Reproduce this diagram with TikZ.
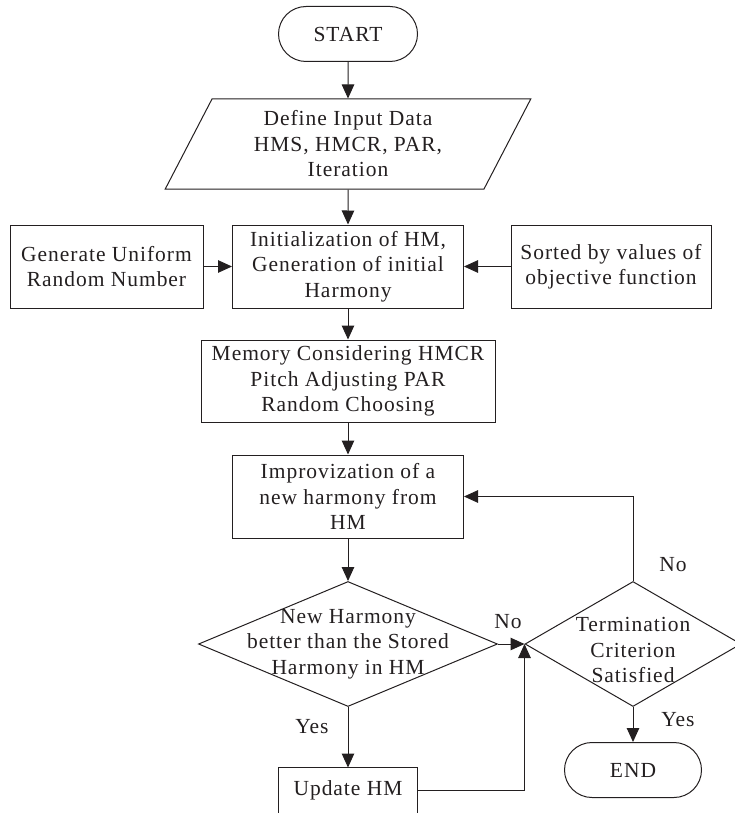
\documentclass[tikz,border=0pt]{standalone}
\usepackage{fontspec}
\setmainfont{Liberation Serif}[LetterSpace=4.5]
\usepackage{tikz}
\usetikzlibrary{shapes.geometric}
\usetikzlibrary{shapes.misc}
\usetikzlibrary{arrows.meta}
\usepackage{xcolor}
\definecolor{ink}{RGB}{35,31,32}
\tikzset{box/.style={draw=ink, line width=1pt, rectangle, align=center, inner sep=0pt}}
\tikzset{terminal/.style={draw=ink, line width=1pt, rounded rectangle, minimum width=139pt, minimum height=55pt, inner sep=0pt}}
\tikzset{io/.style={draw=ink, line width=1pt, trapezium, trapezium left angle=64, trapezium right angle=116, trapezium stretches=true, align=center, inner sep=0pt}}
\tikzset{decision/.style={draw=ink, line width=1pt, diamond, inner sep=0pt}}
\tikzset{flow/.style={draw=ink, line width=1pt, -{Triangle[length=14pt,width=12.5pt]}}}

\begin{document}
\begin{tikzpicture}[x=1pt, y=-1pt, font=\fontsize{21.5}{25.5}\selectfont, text=ink]

	\useasboundingbox (0,0) rectangle (734,813);

	\node[terminal] (start) at (348,34) {START};
	\node[io, minimum width=367pt, minimum height=90pt] (input) at (348,144) {Define Input Data\\HMS, HMCR, PAR,\\Iteration};

	\node[box, minimum width=231pt, minimum height=83pt] (init) at (348,266.5) {Initialization of HM,\\Generation of initial\\Harmony};
	\node[box, minimum width=193pt, minimum height=83pt] (uniform) at (106.5,266.5) {Generate Uniform\\Random Number};
	\node[box, minimum width=200pt, minimum height=83pt] (sorted) at (611,266.5) {Sorted by values of\\objective function};

	\node[box, minimum width=294pt, minimum height=82pt] (memory) at (348,381) {Memory Considering HMCR\\Pitch Adjusting PAR\\Random Choosing};
	\node[box, minimum width=231pt, minimum height=83pt] (improv) at (348,496.5) {Improvization of a\\new harmony from\\HM};

	\node[decision, minimum width=299pt, minimum height=125pt, label={[align=center]center:New Harmony\\better than the Stored\\Harmony in HM}] (better) at (348,644) {};
	\node[decision, minimum width=216pt, minimum height=125pt, label={[align=center, yshift=-6pt]center:Termination\\Criterion\\Satisfied}] (term) at (633,644) {};

	\node[box, draw=none, minimum width=138pt, minimum height=44pt] (update) at (348,790) {Update HM};
	\draw[ink, line width=1pt] ([yshift=-30pt]update.south west) -- (update.north west) -- (update.north east) -- ([yshift=-30pt]update.south east);

	\node[terminal, minimum width=137pt] (end) at (633,770) {END};

	\draw[flow] (start.south) -- (input.north);
	\draw[flow] (input.south) -- (init.north);
	\draw[flow] (uniform.east) -- (init.west);
	\draw[flow] (sorted.west) -- (init.east);
	\draw[flow] (init.south) -- (memory.north);
	\draw[flow] (memory.south) -- (improv.north);
	\draw[flow] (improv.south) -- (better.north);
	\draw[flow] (better.east) -- (term.west);
	\draw[flow] (better.south) -- (update.north);
	\draw[flow] (update.east) -| (term.west);
	\draw[flow] (term.north) |- (improv.east);
	\draw[flow] (term.south) -- (end.north);

	\node (noA) at (508,622) {No};
	\node (noB) at (673,565) {No};
	\node (yesA) at (312,727) {Yes};
	\node (yesB) at (678,720) {Yes};
\end{tikzpicture}
\end{document}
